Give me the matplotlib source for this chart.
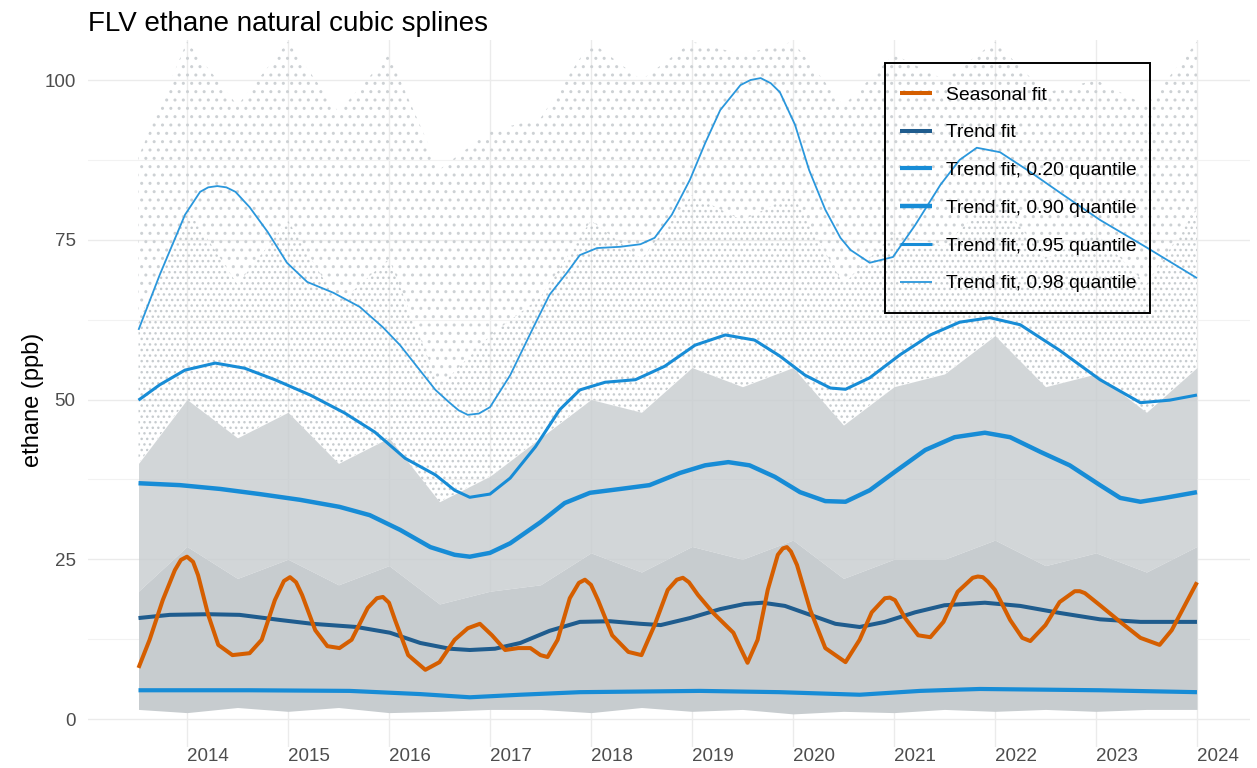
import numpy as np
import matplotlib
matplotlib.use("Agg")
import matplotlib.pyplot as plt
from matplotlib.patches import Rectangle

plt.rcParams['font.family'] = ['Liberation Sans', 'DejaVu Sans']
plt.rcParams['hatch.linewidth'] = 1.0

# ---------------- data (decimal year, ppb) ----------------
seasonal_t = [2013.52, 2013.63, 2013.76, 2013.88, 2013.94, 2014.00, 2014.06, 2014.11, 2014.21, 2014.31, 2014.45,
              2014.62, 2014.74, 2014.87, 2014.96, 2015.02, 2015.08, 2015.14, 2015.27, 2015.39, 2015.51, 2015.63,
              2015.79, 2015.88, 2015.94, 2016.00, 2016.06, 2016.19, 2016.36, 2016.50, 2016.65, 2016.78, 2016.90,
              2017.02, 2017.15, 2017.28, 2017.40, 2017.50, 2017.57, 2017.67, 2017.79, 2017.88, 2017.94, 2018.00,
              2018.07, 2018.21, 2018.37, 2018.50, 2018.63, 2018.76, 2018.85, 2018.91, 2018.97, 2019.06, 2019.21,
              2019.41, 2019.48, 2019.55, 2019.65, 2019.75, 2019.85, 2019.90, 2019.94, 2019.98, 2020.04, 2020.17,
              2020.32, 2020.52, 2020.66, 2020.78, 2020.91, 2020.96, 2021.01, 2021.11, 2021.24, 2021.36, 2021.49,
              2021.63, 2021.78, 2021.83, 2021.88, 2021.93, 2022.00, 2022.15, 2022.27, 2022.35, 2022.50, 2022.64,
              2022.79, 2022.84, 2022.89, 2023.04, 2023.24, 2023.44, 2023.63, 2023.75, 2023.88, 2024.00]
seasonal_v = [8.0, 12.4, 18.6, 23.3, 24.9, 25.4, 24.6, 22.5, 16.3, 11.6, 10.0,
              10.3, 12.4, 18.6, 21.6, 22.2, 21.4, 19.4, 13.9, 11.4, 11.1, 12.4,
              17.4, 18.9, 19.1, 18.2, 15.5, 10.0, 7.7, 8.9, 12.4, 14.2, 14.9,
              13.1, 10.8, 11.1, 11.1, 10.0, 9.7, 12.4, 18.9, 21.3, 21.8, 21.0,
              18.6, 13.1, 10.5, 10.0, 14.7, 20.2, 21.8, 22.1, 21.4, 19.4, 16.6,
              13.5, 11.1, 8.8, 12.4, 20.2, 25.7, 26.7, 26.9, 26.2, 24.1, 17.1,
              11.1, 8.9, 12.4, 16.7, 18.9, 19.0, 18.6, 15.8, 13.1, 12.8, 15.2,
              19.9, 22.1, 22.3, 22.2, 21.5, 20.2, 15.5, 12.7, 12.2, 14.7, 18.3,
              20.0, 20.0, 19.7, 17.8, 15.2, 12.7, 11.6, 13.9, 17.8, 21.4]

trend_t = [2013.52, 2013.83, 2014.21, 2014.52, 2014.92, 2015.24, 2015.68, 2016.01, 2016.31, 2016.60, 2016.80,
           2017.05, 2017.30, 2017.59, 2017.89, 2018.19, 2018.49, 2018.69, 2018.98, 2019.28, 2019.52, 2019.70,
           2019.92, 2020.17, 2020.42, 2020.66, 2020.91, 2021.21, 2021.50, 2021.90, 2022.25, 2022.64, 2023.04,
           2023.44, 2024.00]
trend_v = [15.8, 16.3, 16.4, 16.3, 15.5, 14.9, 14.4, 13.5, 11.9, 11.0, 10.8,
           11.0, 11.9, 13.8, 15.2, 15.3, 14.9, 14.7, 15.8, 17.2, 18.0, 18.2,
           17.7, 16.3, 14.9, 14.4, 15.2, 16.7, 17.8, 18.2, 17.7, 16.6, 15.6,
           15.2, 15.2]

q20_t = [2013.52, 2014.62, 2015.61, 2016.31, 2016.80, 2017.30, 2017.89, 2019.08, 2019.87, 2020.66, 2021.26,
         2021.85, 2023.04, 2024.00]
q20_v = [4.5, 4.5, 4.4, 3.9, 3.4, 3.8, 4.2, 4.4, 4.2, 3.8, 4.4, 4.7, 4.5, 4.2]

q90_t = [2013.52, 2013.93, 2014.33, 2014.72, 2015.12, 2015.51, 2015.81, 2016.11, 2016.41, 2016.65, 2016.80,
         2017.00, 2017.20, 2017.50, 2017.74, 2017.99, 2018.29, 2018.58, 2018.88, 2019.13, 2019.36, 2019.57,
         2019.82, 2020.07, 2020.32, 2020.52, 2020.76, 2021.01, 2021.31, 2021.60, 2021.90, 2022.15, 2022.45,
         2022.74, 2023.04, 2023.24, 2023.44, 2023.68, 2024.00]
q90_v = [36.9, 36.6, 36.0, 35.2, 34.3, 33.2, 31.9, 29.6, 26.9, 25.7, 25.4,
         26.0, 27.5, 30.8, 33.8, 35.4, 36.0, 36.6, 38.5, 39.7, 40.2, 39.7,
         37.9, 35.5, 34.1, 34.0, 35.8, 38.7, 42.1, 44.1, 44.8, 44.1, 41.8,
         39.7, 36.6, 34.6, 34.0, 34.6, 35.5]

q95_t = [2013.52, 2013.73, 2013.98, 2014.28, 2014.57, 2014.87, 2015.22, 2015.56, 2015.86, 2016.16, 2016.46,
         2016.65, 2016.80, 2017.00, 2017.20, 2017.45, 2017.69, 2017.89, 2018.14, 2018.44, 2018.73, 2019.03,
         2019.33, 2019.62, 2019.87, 2020.12, 2020.37, 2020.52, 2020.76, 2021.06, 2021.36, 2021.65, 2021.95,
         2022.25, 2022.64, 2023.04, 2023.44, 2023.73, 2024.00]
q95_v = [49.9, 52.3, 54.6, 55.7, 54.9, 53.1, 50.7, 47.9, 44.9, 40.8, 38.2,
         35.8, 34.7, 35.2, 37.7, 42.6, 48.4, 51.5, 52.7, 53.1, 55.2, 58.5,
         60.1, 59.3, 56.8, 53.8, 51.8, 51.6, 53.4, 57.0, 60.1, 62.1, 62.8,
         61.7, 57.7, 53.1, 49.5, 49.9, 50.7]

q98_t = [2013.52, 2013.73, 2013.98, 2014.13, 2014.21, 2014.30, 2014.39, 2014.48, 2014.62, 2014.80, 2014.99,
         2015.19, 2015.45, 2015.71, 2015.94, 2016.11, 2016.28, 2016.46, 2016.60, 2016.69, 2016.78, 2016.89,
         2017.00, 2017.20, 2017.43, 2017.59, 2017.76, 2017.89, 2018.06, 2018.29, 2018.49, 2018.63, 2018.80,
         2018.98, 2019.13, 2019.28, 2019.48, 2019.58, 2019.68, 2019.78, 2019.87, 2020.02, 2020.16, 2020.32,
         2020.47, 2020.57, 2020.76, 2020.99, 2021.21, 2021.46, 2021.65, 2021.82, 2022.05, 2022.35, 2022.65,
         2023.04, 2023.49, 2024.00]
q98_v = [60.9, 69.5, 78.9, 82.5, 83.2, 83.4, 83.2, 82.5, 80.1, 76.2, 71.4,
         68.4, 66.7, 64.5, 61.3, 58.5, 55.1, 51.5, 49.5, 48.3, 47.6, 47.8,
         48.8, 53.8, 61.3, 66.4, 69.8, 72.6, 73.7, 73.9, 74.3, 75.3, 78.9,
         84.4, 90.1, 95.3, 99.2, 100.0, 100.3, 99.5, 98.1, 93.0, 85.9, 79.7,
         75.3, 73.4, 71.4, 72.3, 77.3, 83.6, 87.5, 89.4, 88.7, 85.6, 82.3,
         78.1, 73.9, 69.0]

# observation cloud, read as envelopes per half-year
obs_t = [2013.52, 2014.0, 2014.5, 2015.0, 2015.5, 2016.0, 2016.5, 2017.0, 2017.5, 2018.0, 2018.5,
         2019.0, 2019.5, 2020.0, 2020.5, 2021.0, 2021.5, 2022.0, 2022.5, 2023.0, 2023.5, 2024.0]
obs_low = [1.5, 1.0, 1.8, 1.2, 1.8, 1.0, 1.2, 1.5, 1.5, 1.0, 1.8,
           1.2, 1.5, 0.8, 1.2, 1.0, 1.5, 1.2, 1.5, 1.2, 1.5, 1.5]
obs_solid = [20, 27, 22, 25, 21, 24, 18, 20, 21, 26, 23,
             27, 25, 28, 22, 25, 25, 28, 24, 26, 23, 27]
obs_dense = [40, 50, 44, 48, 40, 44, 34, 38, 44, 50, 48,
             55, 52, 55, 46, 52, 54, 60, 52, 54, 48, 55]
obs_mid = [62, 80, 68, 78, 65, 72, 52, 60, 66, 78, 72,
           82, 78, 82, 68, 76, 74, 82, 72, 76, 68, 80]
obs_max = [88, 106, 96, 106, 95, 104, 86, 92, 94, 106, 100,
           106, 104, 106, 96, 104, 100, 106, 98, 100, 96, 106]

years = list(range(2014, 2025))
y_ticks = [0, 25, 50, 75, 100]
y_minor = [12.5, 37.5, 62.5, 87.5]

legend_labels = ['Seasonal fit', 'Trend fit', 'Trend fit, 0.20 quantile', 'Trend fit, 0.90 quantile',
                 'Trend fit, 0.95 quantile', 'Trend fit, 0.98 quantile']

# ---------------- figure ----------------
W, H = 1257, 768
fig = plt.figure(figsize=(W / 100, H / 100), dpi=100)
ax = fig.add_axes([88 / W, (H - 747) / H, (1250 - 88) / W, 707 / H])

grey = '#C7CCCF'
ax.fill_between(obs_t, obs_low, obs_solid, color=grey, lw=0, zorder=1)
ax.fill_between(obs_t, obs_solid, obs_dense, color=grey, alpha=0.8, lw=0, zorder=1)
ax.fill_between(obs_t, obs_dense, obs_mid, facecolor='none', edgecolor=grey,
                hatch='...', lw=0, zorder=1)
ax.fill_between(obs_t, obs_mid, obs_max, facecolor='none', edgecolor='#CDD1D4',
                hatch='..', lw=0, zorder=1)

blue = '#178CD6'
kw = dict(solid_joinstyle='round', solid_capstyle='butt')
ax.plot(seasonal_t, seasonal_v, color='#D55E00', lw=2.9, label=legend_labels[0], zorder=5, **kw)
ax.plot(trend_t, trend_v, color='#1F5C8E', lw=2.9, label=legend_labels[1], zorder=4, **kw)
ax.plot(q20_t, q20_v, color=blue, lw=3.0, label=legend_labels[2], zorder=3, **kw)
ax.plot(q90_t, q90_v, color=blue, lw=3.2, label=legend_labels[3], zorder=3, **kw)
ax.plot(q95_t, q95_v, color=blue, lw=2.2, label=legend_labels[4], zorder=3, **kw)
ax.plot(q98_t, q98_v, color='#2A97DC', lw=1.3, label=legend_labels[5], zorder=3, **kw)

ax.set_xlim(2013.02, 2024.525)
ax.set_ylim(-4.38, 106.26)

for s in ax.spines.values():
    s.set_visible(False)

ax.set_xticks(years)
ax.set_xticklabels([str(y) for y in years])
for lab in ax.get_xticklabels():
    lab.set_horizontalalignment('left')
ax.set_yticks(y_ticks)
ax.set_yticks(y_minor, minor=True)
ax.tick_params(axis='both', which='both', length=0, labelsize=13.5, labelcolor='#4D4D4D')
ax.tick_params(axis='x', pad=1)
ax.tick_params(axis='y', pad=9)
ax.grid(True, which='major', color='#EBEBEB', lw=1.0)
ax.grid(True, which='minor', axis='y', color='#F2F2F2', lw=0.8)
ax.set_axisbelow(True)

fig.text(88 / W, 1 - 31 / H, 'FLV ethane natural cubic splines', fontsize=20,
         ha='left', va='baseline', color='black')
fig.text(33 / W, 1 - 400 / H, 'ethane (ppb)', fontsize=17, rotation=90,
         ha='center', va='center', color='black')

leg = ax.legend(loc='upper left', bbox_to_anchor=(900 / W, 1 - 86 / H),
                bbox_transform=fig.transFigure, borderaxespad=0, borderpad=0,
                fontsize=13.9, frameon=False, handlelength=1.65, handletextpad=0.75,
                labelspacing=1.05)
leg.set_zorder(6)
fig.add_artist(Rectangle((885 / W, 1 - 313 / H), 265 / W, 250 / H, transform=fig.transFigure,
                         fill=False, edgecolor='black', lw=1.4, zorder=7))

fig.savefig('out.png', dpi=100)
